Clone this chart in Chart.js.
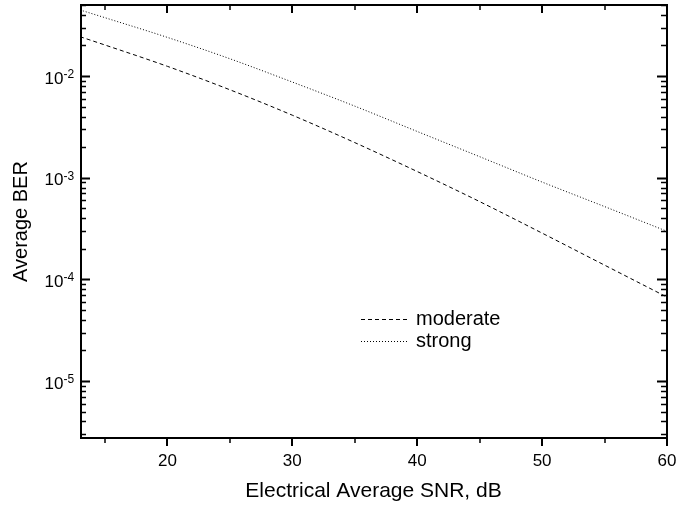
<!DOCTYPE html>
<html>
<head>
<meta charset="utf-8">
<script src="https://cdn.jsdelivr.net/npm/chart.js@4.4.0/dist/chart.umd.min.js"></script>
<style>
  html, body { margin: 0; padding: 0; background: #fff; }
  #wrap { width: 699px; height: 508px; }
</style>
</head>
<body>
<div id="wrap"><canvas id="c"></canvas></div>
<script>
// values
const snrDb = [13, 15, 20, 25, 30, 35, 40, 45, 50, 55, 60];
const berModerate = [0.0244, 0.0202, 0.01246, 0.00733, 0.00412, 0.002215, 0.00115, 0.000582, 0.000285, 0.000138, 0.0000669];
const berStrong = [0.0447, 0.0375, 0.0240, 0.0148, 0.00873, 0.00506, 0.00285, 0.00161, 0.000906, 0.000520, 0.000297];
const seriesNames = ['moderate', 'strong'];
const xTicks = [20, 30, 40, 50, 60];
const xMinor = [15, 25, 35, 45, 55];
const yDecades = [-5, -4, -3, -2];

const FONT = 'Liberation Sans, Arial, Helvetica, sans-serif';

const toPoints = ys => snrDb.map((x, i) => ({ x: x, y: ys[i] }));

// frame, inward/outward ticks, superscript y labels and the legend
const framePlugin = {
  id: 'frame',
  afterDraw(chart) {
    const ctx = chart.ctx;
    const xs = chart.scales.x, ys = chart.scales.y;
    const a = chart.chartArea;
    ctx.save();
    ctx.strokeStyle = '#000';
    ctx.lineWidth = 2;
    ctx.strokeRect(a.left + 1, a.top, a.right - a.left - 1, a.bottom - a.top);

    // x ticks: outward at bottom, inward at top
    const xt = (v, len) => {
      const px = Math.round(xs.getPixelForValue(v));
      ctx.beginPath();
      ctx.moveTo(px, a.bottom); ctx.lineTo(px, a.bottom + len);
      ctx.moveTo(px, a.top); ctx.lineTo(px, a.top + len);
      ctx.stroke();
    };
    ctx.lineWidth = 2;
    xTicks.forEach(v => xt(v, 8));
    ctx.lineWidth = 1.5;
    xMinor.forEach(v => xt(v, 5));

    // y ticks: inward on both sides
    const yt = (v, len) => {
      const py = Math.round(ys.getPixelForValue(v)) + 0.5;
      if (py < a.top || py > a.bottom) return;
      ctx.beginPath();
      ctx.moveTo(a.left, py); ctx.lineTo(a.left + len, py);
      ctx.moveTo(a.right, py); ctx.lineTo(a.right - len, py);
      ctx.stroke();
    };
    for (let d = -6; d <= -1; d++) {
      ctx.lineWidth = 2;
      yt(Math.pow(10, d), 10);
      ctx.lineWidth = 1.5;
      for (let m = 2; m <= 9; m++) yt(m * Math.pow(10, d), 6);
    }

    // y labels 10^n
    ctx.fillStyle = '#000';
    yDecades.forEach(d => {
      const py = ys.getPixelForValue(Math.pow(10, d));
      ctx.font = '17px ' + FONT;
      ctx.textAlign = 'right';
      ctx.textBaseline = 'alphabetic';
      ctx.fillText('10', 63.5, py + 7.5);
      ctx.font = '12px ' + FONT;
      ctx.textAlign = 'left';
      ctx.fillText('-' + (-d), 63.5, py + 2);
    });

    // legend inside the plot
    const rows = [319.5, 341.5];
    chart.data.datasets.forEach((ds, i) => {
      ctx.strokeStyle = ds.borderColor;
      ctx.lineWidth = ds.borderWidth;
      ctx.setLineDash(ds.borderDash);
      ctx.beginPath();
      ctx.moveTo(361, rows[i]); ctx.lineTo(409, rows[i]);
      ctx.stroke();
      ctx.setLineDash([]);
      ctx.font = '20px ' + FONT;
      ctx.textAlign = 'left';
      ctx.textBaseline = 'middle';
      ctx.fillText(ds.label, 416, rows[i]);
    });
    ctx.restore();
  }
};

new Chart(document.getElementById('c'), {
  type: 'line',
  data: {
    datasets: [
      {
        label: seriesNames[0],
        data: toPoints(berModerate),
        borderColor: '#000',
        borderWidth: 1,
        borderDash: [4, 3],
        pointRadius: 0,
        cubicInterpolationMode: 'monotone'
      },
      {
        label: seriesNames[1],
        data: toPoints(berStrong),
        borderColor: '#000',
        borderWidth: 1,
        borderDash: [1, 2],
        pointRadius: 0,
        cubicInterpolationMode: 'monotone'
      }
    ]
  },
  options: {
    responsive: true,
    maintainAspectRatio: false,
    animation: false,
    layout: { padding: { top: 5, right: 32, left: 0, bottom: 0 } },
    plugins: { legend: { display: false }, tooltip: { enabled: false } },
    scales: {
      x: {
        type: 'linear',
        min: 13,
        max: 60,
        afterBuildTicks: s => { s.ticks = xTicks.map(v => ({ value: v })); },
        afterFit: s => { s.height = 70; },
        grid: { display: false, drawTicks: false },
        border: { display: false },
        ticks: { color: '#000', padding: 13, maxRotation: 0, font: { family: FONT, size: 17 } },
        title: {
          display: true,
          text: 'Electrical Average SNR, dB',
          color: '#000',
          font: { family: FONT, size: 21 },
          padding: { top: 0, bottom: 4 }
        }
      },
      y: {
        type: 'logarithmic',
        min: 2.75e-6,
        max: 0.05,
        afterBuildTicks: s => { s.ticks = yDecades.map(d => ({ value: Math.pow(10, d) })); },
        afterFit: s => { s.width = 80; },
        grid: { display: false, drawTicks: false },
        border: { display: false },
        ticks: { display: false },
        title: {
          display: true,
          text: 'Average BER',
          color: '#000',
          font: { family: FONT, size: 20 },
          padding: { top: 9, bottom: 0 }
        }
      }
    }
  },
  plugins: [framePlugin]
});
</script>
</body>
</html>
